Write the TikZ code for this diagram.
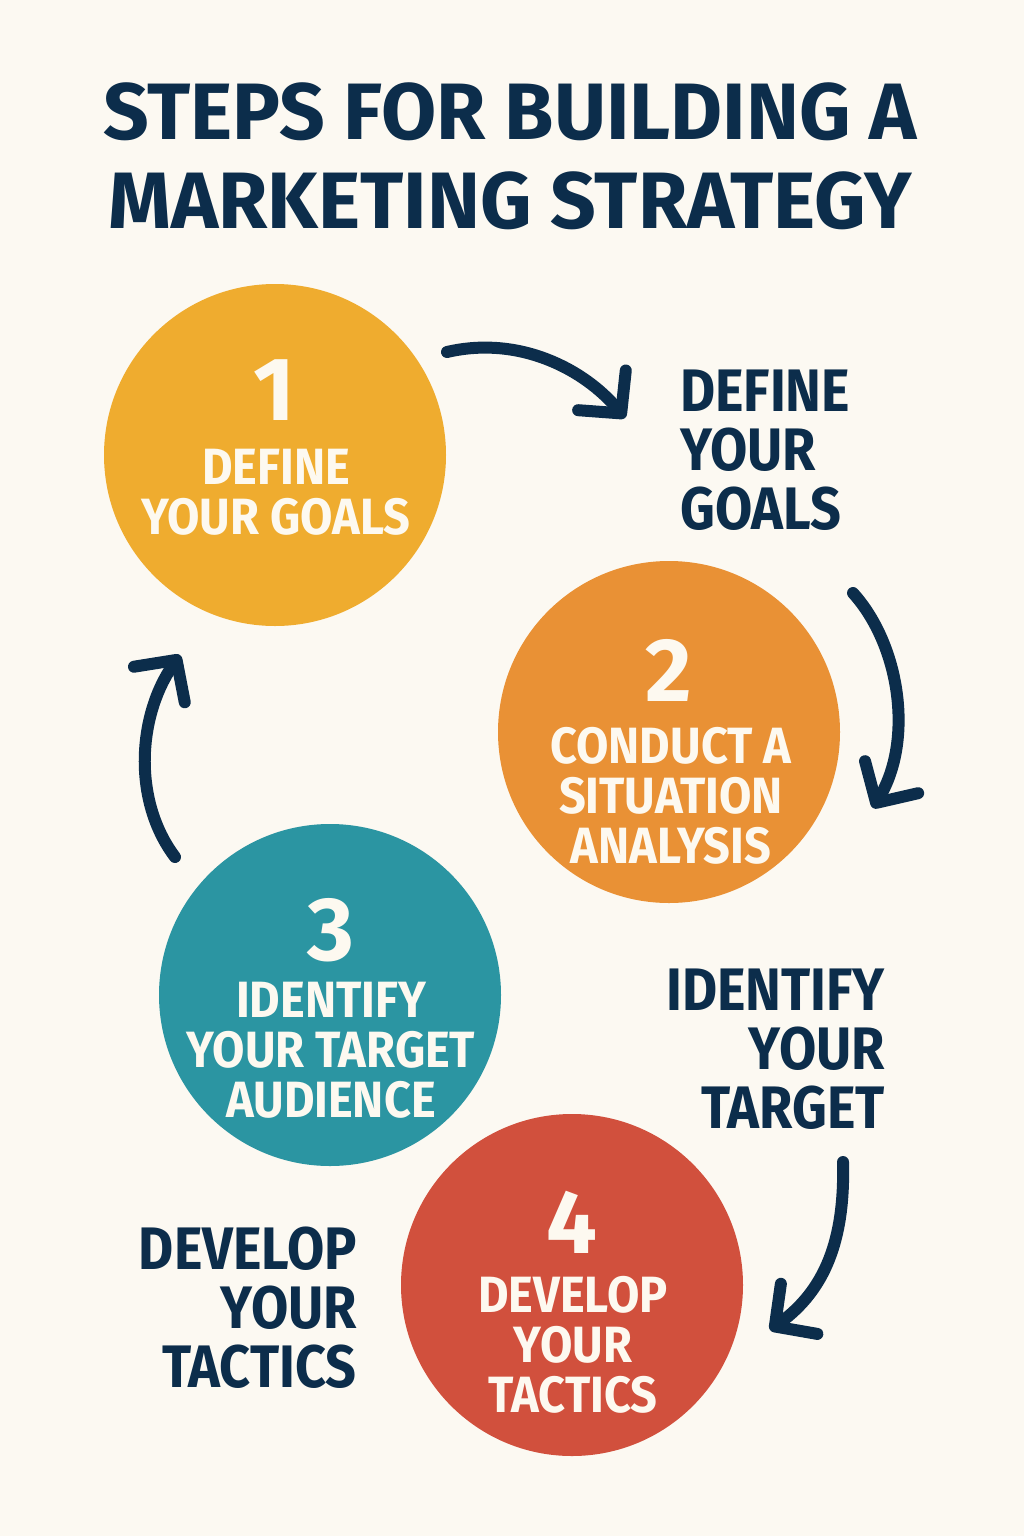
\documentclass[tikz,border=0pt]{standalone}
\usepackage{fontspec}
\setmainfont{Fira Sans}[UprightFont=* Bold]
\newfontfamily\narrowfont{Fira Sans}[UprightFont=* Bold,FakeStretch=0.9]
\newfontfamily\circfont{Fira Sans}[UprightFont=* Bold,FakeStretch=0.92]
\usetikzlibrary{arrows.meta}
\definecolor{bg}{HTML}{FCF9F2}
\definecolor{navy}{HTML}{0C2D4B}
\definecolor{cone}{HTML}{EFAC2F}
\definecolor{ctwo}{HTML}{E99135}
\definecolor{cthree}{HTML}{2B95A2}
\definecolor{cfour}{HTML}{D1503D}
\definecolor{ink}{HTML}{FDF9F0}
\begin{document}
\begin{tikzpicture}[x=1pt,y=-1pt,
  disc/.style={circle,inner sep=0pt,minimum size=342pt},
  num/.style={text=ink,inner sep=0pt,font=\fontsize{90}{90}\selectfont},
  intext/.style={text=ink,inner sep=0pt,align=center,font=\circfont\fontsize{51}{50}\selectfont},
  side/.style={text=navy,inner sep=0pt,font=\narrowfont\fontsize{60}{59}\selectfont},
  flow/.style={draw=navy,line width=12pt,line cap=round,line join=round,
    -{Straight Barb[length=30pt,width=62pt,line cap=round,line join=round]}}]
\fill[bg] (0,0) rectangle (1024,1536);
\useasboundingbox (0,0) rectangle (1024,1536);
\node[text=navy,inner sep=0pt,align=center,font=\fontsize{80}{89}\selectfont] (title) at (510,156) {STEPS FOR BUILDING A\\MARKETING STRATEGY};
% circles
\node[disc,fill=cone] (s1) at (275,455) {};
\node[disc,fill=ctwo] (s2) at (669,732) {};
\node[disc,fill=cthree] (s3) at (330,995) {};
\node[disc,fill=cfour] (s4) at (572,1285) {};
% numbers
\node[num] (n1) at (274,390) {1};
\node[num] (n2) at (669,670) {2};
\node[num] (n3) at (331,930) {3};
\node[num] (n4) at (572,1222) {4};
% circle texts
\node[intext] (t1) at (276,492) {DEFINE\\YOUR GOALS};
\node[intext] (t2) at (671,796) {CONDUCT A\\SITUATION\\ANALYSIS};
\node[intext] (t3) at (331,1050) {IDENTIFY\\YOUR TARGET\\AUDIENCE};
\node[intext] (t4) at (573,1345) {DEVELOP\\YOUR\\TACTICS};
% side texts
\node[side,anchor=west,align=left] (l1) at (680,450) {DEFINE\\YOUR\\GOALS};
\node[side,anchor=east,align=right] (l3) at (885,1049) {IDENTIFY\\YOUR\\TARGET};
\node[side,anchor=east,align=right] (l4) at (357,1308) {DEVELOP\\YOUR\\TACTICS};
% arrow coordinates
\coordinate (a1s) at (447,352); \coordinate (a1e) at (625,418);
\coordinate (a2s) at (853,593); \coordinate (a2e) at (873,808);
\coordinate (a3s) at (175,857); \coordinate (a3e) at (180,655);
\coordinate (a4s) at (843,1162); \coordinate (a4e) at (770,1330);
\draw[flow] (a1s) .. controls (520,335) and (585,370) .. (a1e);
\draw[flow] (a2s) .. controls (900,645) and (914,740) .. (a2e);
\draw[flow] (a3s) .. controls (132,800) and (138,715) .. (a3e);
\draw[flow] (a4s) .. controls (845,1240) and (825,1290) .. (a4e);
\end{tikzpicture}
\end{document}
